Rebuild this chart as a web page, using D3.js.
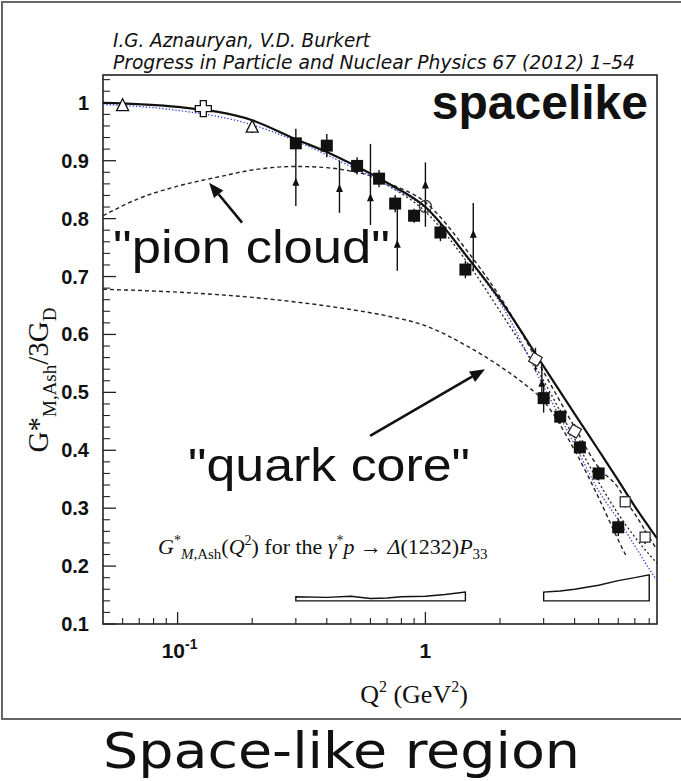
<!DOCTYPE html>
<html><head><meta charset="utf-8">
<script src="https://cdn.jsdelivr.net/npm/d3@7"></script>
<style>body{margin:0;background:#fff}svg{display:block}</style>
</head><body><svg id="c" width="681" height="781"></svg>
<script>
// ---------- data ----------
const yTicks = [0.1,0.2,0.3,0.4,0.5,0.6,0.7,0.8,0.9,1.0];
const yTickLabels = ["0.1","0.2","0.3","0.4","0.5","0.6","0.7","0.8","0.9","1"];
const xMajor = [0.1, 1];
const xMinor = [0.06,0.07,0.08,0.09,0.2,0.3,0.4,0.5,0.6,0.7,0.8,0.9,2,3,4,5,6,7,8];

// model curves
const solidQ = [0.05,0.1,0.2,0.3,0.4,0.5,0.7,1.0,1.5,2,3,4,5,6,7,8,8.6];
const solidV = [1.0,0.993,0.97,0.937,0.915,0.895,0.862,0.82,0.73,0.66,0.545,0.463,0.40,0.348,0.303,0.267,0.248];
const blueQ = [0.05,0.1,0.2,0.3,0.5,0.7,1.0,1.5,2,3,4,5,6,7,8,8.6];
const blueV = [0.997,0.987,0.962,0.934,0.89,0.858,0.818,0.728,0.655,0.51,0.41,0.33,0.28,0.235,0.195,0.175];
const pionQ = [0.05,0.07,0.1,0.15,0.2,0.3,0.4,0.5,0.6,0.7,1.0,1.5,2,3,4,5,6,6.5,7,8,8.6];
const pionV = [0.805,0.835,0.856,0.873,0.884,0.89,0.888,0.882,0.874,0.862,0.828,0.74,0.665,0.535,0.44,0.37,0.335,0.31,0.29,0.25,0.228];
const midQ = [0.7,1.0,1.5,2,3,4,5,6,7,8.6];
const midV = [0.858,0.812,0.72,0.64,0.52,0.42,0.345,0.29,0.25,0.205];
const quarkQ = [0.05,0.1,0.2,0.3,0.5,0.7,1.0,1.5,2,2.5,3,4,5,6,6.5];
const quarkV = [0.678,0.673,0.664,0.656,0.643,0.632,0.615,0.578,0.545,0.515,0.485,0.40,0.318,0.245,0.215];

// data sets
const sqQ = [0.3,0.4,0.53,0.65,0.755,0.9,1.15,1.45,3.0,3.5,4.2,5.0,6.0];
const sqV = [0.93,0.926,0.891,0.869,0.826,0.805,0.776,0.712,0.49,0.458,0.405,0.36,0.267];
const sqE = [0.025,0.02,0.015,0.015,0.015,0.012,0.015,0.015,0.025,0.012,0.012,0.012,0.015];
const triQ = [0.3,0.45,0.6,0.77,1.0,1.56,2.95];
const triV = [0.862,0.851,0.835,0.755,0.857,0.772,0.515];
const triHi = [0.905,0.9,0.929,0.818,0.897,0.827,0.55];
const triLo = [0.822,0.81,0.789,0.71,0.786,0.709,0.48];
const otQ = [0.06,0.2];
const otV = [0.995,0.958];
const otE = [0.008,0.01];
const crossQ = [0.127];
const crossV = [0.99];
const circQ = [1.0];
const circV = [0.821];
const diaQ = [2.78,4.0];
const diaV = [0.557,0.433];
const diaE = [0.02,0.012];
const osqQ = [6.4,7.7];
const osqV = [0.311,0.25];
const osqE = [0.01,0.012];

// systematic bands
const band1Q = [0.3,0.4,0.5,0.6,0.7,0.8,1.0,1.2,1.45];
const band1Top = [0.147,0.146,0.148,0.144,0.145,0.147,0.148,0.151,0.155];
const band2Q = [3.0,3.5,4.0,5.0,6.0,7.0,8.0];
const band2Top = [0.155,0.157,0.16,0.167,0.175,0.18,0.185];
const bandBottom = 0.14;

// annotations (data coords)
const arrowPion = [[0.182,0.793],[0.134,0.862]];
const arrowQuark = [[0.598,0.425],[1.74,0.540]];

// ---------- drawing ----------
const svg = d3.select("#c");
const L=103, R=657, T=75, B=624;
const x = d3.scaleLog().domain([0.05, 8.6]).range([L, R]);
const y = d3.scaleLinear().domain([0.1, 1.048]).range([B, T]);
const zip = (a,b)=>a.map((v,i)=>[v,b[i]]);

// outer figure border
svg.append("rect").attr("x",2).attr("y",2).attr("width",720).attr("height",717)
  .attr("fill","none").attr("stroke","#666").attr("stroke-width",2);

svg.append("defs").append("clipPath").attr("id","clip")
  .append("rect").attr("x",L).attr("y",T).attr("width",R-L).attr("height",B-T);

// title
const title = svg.append("g").attr("font-family","'Liberation Sans Narrow','DejaVu Sans Condensed','Open Sans',sans-serif")
  .attr("font-style","italic").attr("font-size",19).attr("fill","#111");
title.append("text").attr("x",113).attr("y",47).attr("textLength",257).attr("lengthAdjust","spacingAndGlyphs")
  .text("I.G. Aznauryan, V.D. Burkert");
title.append("text").attr("x",113).attr("y",69).attr("textLength",522).attr("lengthAdjust","spacingAndGlyphs")
  .text("Progress in Particle and Nuclear Physics 67 (2012) 1–54");

// frame
svg.append("rect").attr("x",L).attr("y",T).attr("width",R-L).attr("height",B-T)
  .attr("fill","none").attr("stroke","#222").attr("stroke-width",1.6);

// y ticks
const yMinor = d3.range(0.12, 1.041, 0.02).filter(v=>Math.abs(v*10-Math.round(v*10))>1e-6);
svg.append("g").selectAll("line").data(yTicks).join("line")
  .attr("x1",L).attr("x2",L+13).attr("y1",d=>y(d)).attr("y2",d=>y(d)).attr("stroke","#222").attr("stroke-width",1.3);
svg.append("g").selectAll("line").data(yMinor).join("line")
  .attr("x1",L).attr("x2",L+7).attr("y1",d=>y(d)).attr("y2",d=>y(d)).attr("stroke","#222").attr("stroke-width",1.1);
svg.append("g").selectAll("text").data(yTicks).join("text")
  .attr("x",89).attr("y",d=>y(d)+7).attr("text-anchor","end")
  .attr("font-family","'Liberation Sans',Arial,sans-serif").attr("font-weight","bold").attr("font-size",20)
  .attr("fill","#111").text((d,i)=>yTickLabels[i]);

// x ticks
svg.append("g").selectAll("line").data(xMajor).join("line")
  .attr("x1",d=>x(d)).attr("x2",d=>x(d)).attr("y1",B).attr("y2",B-12).attr("stroke","#222").attr("stroke-width",1.3);
svg.append("g").selectAll("line").data(xMinor).join("line")
  .attr("x1",d=>x(d)).attr("x2",d=>x(d)).attr("y1",B).attr("y2",B-6).attr("stroke","#222").attr("stroke-width",1.1);
const xl = svg.append("g").attr("font-family","'Liberation Sans',Arial,sans-serif").attr("font-weight","bold").attr("fill","#111");
const t1 = xl.append("text").attr("x",x(0.1)+2).attr("y",658).attr("text-anchor","middle").attr("font-size",21);
t1.append("tspan").text("10");
t1.append("tspan").attr("font-size",14).attr("dy",-9).text("-1");
xl.append("text").attr("x",x(1)).attr("y",658).attr("text-anchor","middle").attr("font-size",21).text("1");

// axis titles
const xt = svg.append("text").attr("x",414).attr("y",703).attr("text-anchor","middle")
  .attr("font-family","'Liberation Serif','Times New Roman',serif").attr("font-size",26).attr("fill","#111");
xt.append("tspan").text("Q");
xt.append("tspan").attr("font-size",16).attr("dy",-11).text("2");
xt.append("tspan").attr("dy",11).text(" (GeV");
xt.append("tspan").attr("font-size",16).attr("dy",-11).text("2");
xt.append("tspan").attr("dy",11).text(")");

const yt = svg.append("text").attr("transform","translate(48,380) rotate(-90)").attr("text-anchor","middle")
  .attr("font-family","'Liberation Serif','Times New Roman',serif").attr("font-size",29).attr("fill","#111");
yt.append("tspan").text("G*");
yt.append("tspan").attr("font-size",19).attr("dy",8).text("M,Ash");
yt.append("tspan").attr("dy",-8).text("/3G");
yt.append("tspan").attr("font-size",19).attr("dy",8).text("D");

// bands
const gB = svg.append("g").attr("clip-path","url(#clip)");
function band(q, top){
  const path = d3.path();
  path.moveTo(x(q[0]), y(bandBottom));
  q.forEach((v,i)=>path.lineTo(x(v), y(top[i])));
  path.lineTo(x(q[q.length-1]), y(bandBottom));
  path.closePath();
  gB.append("path").attr("d",path.toString()).attr("fill","none").attr("stroke","#111").attr("stroke-width",1.4);
}
band(band1Q, band1Top);
band(band2Q, band2Top);

// curves
const line = d3.line().x(d=>x(d[0])).y(d=>y(d[1])).curve(d3.curveMonotoneX);
const gC = svg.append("g").attr("clip-path","url(#clip)").attr("fill","none");
gC.append("path").attr("d",line(zip(quarkQ,quarkV))).attr("stroke","#222").attr("stroke-width",1.4).attr("stroke-dasharray","4,3");
gC.append("path").attr("d",line(zip(pionQ,pionV))).attr("stroke","#222").attr("stroke-width",1.4).attr("stroke-dasharray","4,3");
gC.append("path").attr("d",line(zip(midQ,midV))).attr("stroke","#222").attr("stroke-width",1.3).attr("stroke-dasharray","2,2.5");
gC.append("path").attr("d",line(zip(blueQ,blueV))).attr("stroke","#2a3fd0").attr("stroke-width",1.3).attr("stroke-dasharray","1.3,2");
gC.append("path").attr("d",line(zip(solidQ,solidV))).attr("stroke","#111").attr("stroke-width",2.2);

// data points
const gP = svg.append("g");
function ebar(q, lo, hi){
  gP.append("line").attr("x1",x(q)).attr("x2",x(q)).attr("y1",y(lo)).attr("y2",y(hi)).attr("stroke","#111").attr("stroke-width",1.4);
}
triQ.forEach((q,i)=>{
  ebar(q, triLo[i], triHi[i]);
  const cx=x(q), cy=y(triV[i]);
  gP.append("path").attr("d",`M${cx},${cy-5}L${cx+3.5},${cy+3}L${cx-3.5},${cy+3}Z`).attr("fill","#111");
});
sqQ.forEach((q,i)=>{
  ebar(q, sqV[i]-sqE[i], sqV[i]+sqE[i]);
  gP.append("rect").attr("x",x(q)-6).attr("y",y(sqV[i])-6).attr("width",12).attr("height",12).attr("fill","#111");
});
otQ.forEach((q,i)=>{
  ebar(q, otV[i]-otE[i], otV[i]+otE[i]);
  const cx=x(q), cy=y(otV[i]);
  gP.append("path").attr("d",`M${cx},${cy-7}L${cx+6},${cy+5}L${cx-6},${cy+5}Z`).attr("fill","#fff").attr("stroke","#111").attr("stroke-width",1.3);
});
crossQ.forEach((q,i)=>{
  const cx=x(q), cy=y(crossV[i]), a=3, b=8;
  gP.append("path").attr("d",`M${cx-a},${cy-b}H${cx+a}V${cy-a}H${cx+b}V${cy+a}H${cx+a}V${cy+b}H${cx-a}V${cy+a}H${cx-b}V${cy-a}H${cx-a}Z`)
    .attr("fill","#fff").attr("stroke","#111").attr("stroke-width",1.3);
});
circQ.forEach((q,i)=>{
  gP.append("circle").attr("cx",x(q)).attr("cy",y(circV[i])).attr("r",6).attr("fill","none").attr("stroke","#333").attr("stroke-width",1.3);
});
diaQ.forEach((q,i)=>{
  ebar(q, diaV[i]-diaE[i], diaV[i]+diaE[i]);
  gP.append("rect").attr("x",-5).attr("y",-5).attr("width",10).attr("height",10)
    .attr("transform",`translate(${x(q)},${y(diaV[i])}) rotate(30)`).attr("fill","#fff").attr("stroke","#222").attr("stroke-width",1.2);
});
osqQ.forEach((q,i)=>{
  ebar(q, osqV[i]-osqE[i], osqV[i]+osqE[i]);
  gP.append("rect").attr("x",x(q)-5).attr("y",y(osqV[i])-5).attr("width",10).attr("height",10)
    .attr("fill","#fff").attr("stroke","#222").attr("stroke-width",1.2);
});

// annotation arrows
function arrow(p){
  const x0=x(p[0][0]), y0=y(p[0][1]), x1=x(p[1][0]), y1=y(p[1][1]);
  const ang=Math.atan2(y1-y0,x1-x0), hl=15, hw=6;
  const bx=x1-hl*Math.cos(ang), by=y1-hl*Math.sin(ang);
  svg.append("line").attr("x1",x0).attr("y1",y0).attr("x2",bx).attr("y2",by).attr("stroke","#111").attr("stroke-width",2.6);
  svg.append("path").attr("d",`M${x1},${y1}L${bx+hw*Math.sin(ang)},${by-hw*Math.cos(ang)}L${bx-hw*Math.sin(ang)},${by+hw*Math.cos(ang)}Z`).attr("fill","#111");
}
arrow(arrowPion);
arrow(arrowQuark);

// big labels
const big = svg.append("g").attr("font-family","'Liberation Sans',Arial,sans-serif").attr("fill","#111");
big.append("text").attr("x",648).attr("y",119).attr("text-anchor","end").attr("font-weight","bold").attr("font-size",48)
  .text("spacelike");
big.append("text").attr("x",113).attr("y",263).attr("font-size",46).attr("textLength",277).attr("lengthAdjust","spacingAndGlyphs")
  .text("\"pion cloud\"");
big.append("text").attr("x",188).attr("y",481).attr("font-size",46).attr("textLength",282).attr("lengthAdjust","spacingAndGlyphs")
  .text("\"quark core\"");

// formula
const f = svg.append("text").attr("x",158).attr("y",554)
  .attr("font-family","'Liberation Serif','Times New Roman',serif").attr("font-size",22).attr("fill","#111");
f.append("tspan").attr("font-style","italic").text("G");
f.append("tspan").attr("font-size",14).attr("dy",-9).text("*");
f.append("tspan").attr("font-size",15).attr("dy",14).attr("font-style","italic").text("M");
f.append("tspan").attr("font-size",15).text(",Ash");
f.append("tspan").attr("dy",-5).text("(");
f.append("tspan").attr("font-style","italic").text("Q");
f.append("tspan").attr("font-size",14).attr("dy",-9).text("2");
f.append("tspan").attr("dy",9).text(") for the ");
f.append("tspan").attr("font-style","italic").text("γ");
f.append("tspan").attr("font-size",14).attr("dy",-9).text("*");
f.append("tspan").attr("dy",9).attr("font-style","italic").text("p");
f.append("tspan").text(" →  ");
f.append("tspan").attr("font-style","italic").text("Δ");
f.append("tspan").text("(1232)");
f.append("tspan").attr("font-style","italic").text("P");
f.append("tspan").attr("font-size",15).attr("dy",5).text("33");

// footer
svg.append("text").attr("x",103).attr("y",768).attr("font-family","'Liberation Sans Narrow','DejaVu Sans Condensed',sans-serif")
  .attr("font-size",50).attr("fill","#111").attr("textLength",477).attr("lengthAdjust","spacingAndGlyphs")
  .text("Space-like region");
</script></body></html>
